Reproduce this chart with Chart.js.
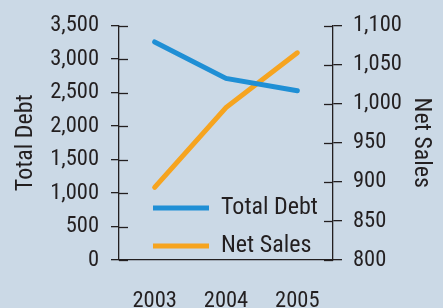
<!DOCTYPE html>
<html>
<head>
<meta charset="utf-8">
<script src="https://cdn.jsdelivr.net/npm/chart.js@4"></script>
<style>
  html, body { margin: 0; padding: 0; background: #cbd9e6; }
  #wrap { width: 443px; height: 308px; }
</style>
</head>
<body>
<div id="wrap"><canvas id="chart" width="443" height="308"></canvas></div>
<script>
var years = ['2003', '2004', '2005'];
var total_debt = [3255, 2710, 2525];
var net_sales = [893, 995, 1065];

var ink = '#231f20';

// the original uses a condensed face; take the narrowest one that is installed
var mctx = document.createElement('canvas').getContext('2d');
function hasFont(name) {
    mctx.font = '40px monospace';
    var w0 = mctx.measureText('3,500 Total Debt').width;
    mctx.font = '40px "' + name + '", monospace';
    return mctx.measureText('3,500 Total Debt').width !== w0;
}
var fontFam = 'sans-serif';
var cands = ['Roboto Condensed', 'Noto Sans Condensed', 'Liberation Sans Narrow', 'Arial Narrow', 'Open Sans Condensed', 'DejaVu Sans Condensed'];
for (var i = 0; i < cands.length; i++) {
    if (hasFont(cands[i])) { fontFam = '"' + cands[i] + '"'; break; }
}
// size so that the text is about as wide as in the picture
function fitSize(txt, w, lo, hi) {
    mctx.font = '20px ' + fontFam;
    var s = 20 * w / mctx.measureText(txt).width;
    return Math.max(lo, Math.min(hi, Math.round(s * 2) / 2));
}
var tickSize = fitSize('3,500', 49, 17, 24);
var xSize = tickSize;
var titleSize = fitSize('Total Debt', 96, 17, 24);
var legSize = fitSize('Total Debt', 100, 17, 24);

// inward half of the y tick marks (chart.js only draws them outward)
var innerTicks = {
    id: 'innerTicks',
    afterLayout: function(chart) {
        // drop the legend into the lower middle of the plot
        var lg = chart.legend;
        lg.left = chart.chartArea.left + 20;
        lg.top = 208 - 14 - legSize / 2;
        lg.bottom = lg.top + 200;
    },
    afterDraw: function(chart) {
        var ctx = chart.ctx;
        ctx.save();
        ctx.strokeStyle = ink;
        ctx.lineWidth = 1.3;
        ['y', 'y1'].forEach(function(id) {
            var s = chart.scales[id];
            var dir = s.position === 'left' ? 1 : -1;
            var x0 = s.position === 'left' ? s.right : s.left;
            s.ticks.forEach(function(t, i) {
                var y = Math.round(s.getPixelForTick(i)) + 0.5;
                ctx.beginPath();
                ctx.moveTo(x0, y);
                ctx.lineTo(x0 + dir * 9, y);
                ctx.stroke();
            });
        });
        ctx.restore();
    }
};

var chart = new Chart(document.getElementById('chart'), {
    type: 'line',
    data: {
        labels: years,
        datasets: [{
            label: 'Total Debt',
            data: total_debt,
            yAxisID: 'y',
            borderColor: '#1f8fd5',
            backgroundColor: '#1f8fd5',
            borderWidth: 5,
            borderCapStyle: 'round',
            pointRadius: 0,
            tension: 0
        }, {
            label: 'Net Sales',
            data: net_sales,
            yAxisID: 'y1',
            borderColor: '#f6a41f',
            backgroundColor: '#f6a41f',
            borderWidth: 5,
            borderCapStyle: 'round',
            pointRadius: 0,
            tension: 0
        }]
    },
    options: {
        responsive: false,
        animation: false,
        layout: { padding: { top: 20, left: 0, right: 0, bottom: 0 } },
        plugins: {
            tooltip: { enabled: false },
            legend: {
                position: 'chartArea',
                align: 'start',
                labels: {
                    usePointStyle: true,
                    pointStyle: 'line',
                    pointStyleWidth: 56,
                    padding: 14,
                    color: ink,
                    font: { family: fontFam, size: legSize }
                }
            }
        },
        scales: {
            x: {
                offset: true,
                grid: { display: false },
                border: { display: true, color: ink, width: 1.3 },
                ticks: { color: ink, padding: 20, font: { family: fontFam, size: xSize } },
                afterFit: function(s) { s.height = 48; }
            },
            y: {
                position: 'left',
                min: 0, max: 3500,
                ticks: { stepSize: 500, color: ink, padding: 12, font: { family: fontFam, size: tickSize } },
                grid: { drawOnChartArea: false, tickLength: 8, color: ink, lineWidth: 1.3 },
                border: { display: true, color: ink, width: 1.3 },
                title: { display: true, text: 'Total Debt', color: ink, padding: { top: 12, bottom: 0 }, font: { family: fontFam, size: titleSize } },
                afterFit: function(s) { s.width = 119; }
            },
            y1: {
                position: 'right',
                min: 800, max: 1100,
                ticks: { stepSize: 50, color: ink, padding: 11, font: { family: fontFam, size: tickSize } },
                grid: { drawOnChartArea: false, tickLength: 9, color: ink, lineWidth: 1.3 },
                border: { display: true, color: ink, width: 1.3 },
                title: { display: true, text: 'Net Sales', color: ink, padding: { top: 8, bottom: 0 }, font: { family: fontFam, size: titleSize } },
                afterFit: function(s) { s.width = 110; }
            }
        }
    },
    plugins: [innerTicks]
});
</script>
</body>
</html>
